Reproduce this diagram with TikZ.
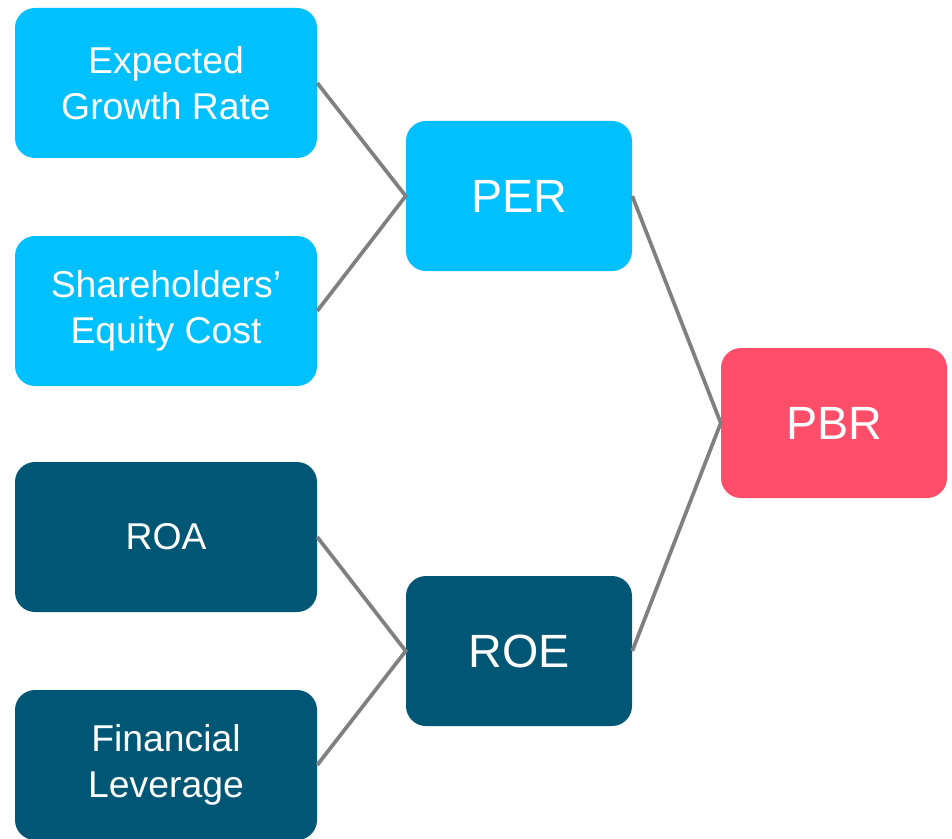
\documentclass[tikz,border=0pt]{standalone}
\usepackage{fontspec}
\setmainfont{Liberation Sans}
\usepackage{tikz}

\definecolor{lightblue}{RGB}{0,192,255}
\definecolor{darkteal}{RGB}{0,86,117}
\definecolor{pbrpink}{RGB}{255,77,106}
\definecolor{linkgray}{RGB}{128,128,128}

\tikzset{
  factor/.style={rounded corners=15pt, minimum width=226.5pt, minimum height=112.5pt,
    inner sep=0pt, align=center, text=white, font=\fontsize{28}{34.5}\selectfont},
  ratio/.style={factor, minimum width=169.5pt, font=\fontsize{35}{42}\selectfont},
  link/.style={draw=linkgray, line width=2.8pt}
}

\begin{document}
\begin{tikzpicture}[x=0.75pt,y=0.75pt,yscale=-1,xscale=1]
\useasboundingbox (0,0) rectangle (952,838);

%Left column: growth and cost factors
\node[factor, fill=lightblue] (growth) at (166,83) {Expected\\Growth Rate};
\node[factor, fill=lightblue] (equity) at (166,311) {Shareholders’\\Equity Cost};
%Left column: profitability factors
\node[factor, fill=darkteal] (roa) at (166,537) {ROA};
\node[factor, fill=darkteal] (leverage) at (166,765) {Financial\\Leverage};

%Middle column
\node[ratio, fill=lightblue] (per) at (519,196) {PER};
\node[ratio, fill=darkteal] (roe) at (519,651) {ROE};

%Right column
\node[ratio, fill=pbrpink] (pbr) at (834,423) {PBR};

%Links
\draw[link] (growth.east) -- (per.west) -- (equity.east);
\draw[link] (roa.east) -- (roe.west) -- (leverage.east);
\draw[link] (per.east) -- (pbr.west) -- (roe.east);

\end{tikzpicture}
\end{document}
